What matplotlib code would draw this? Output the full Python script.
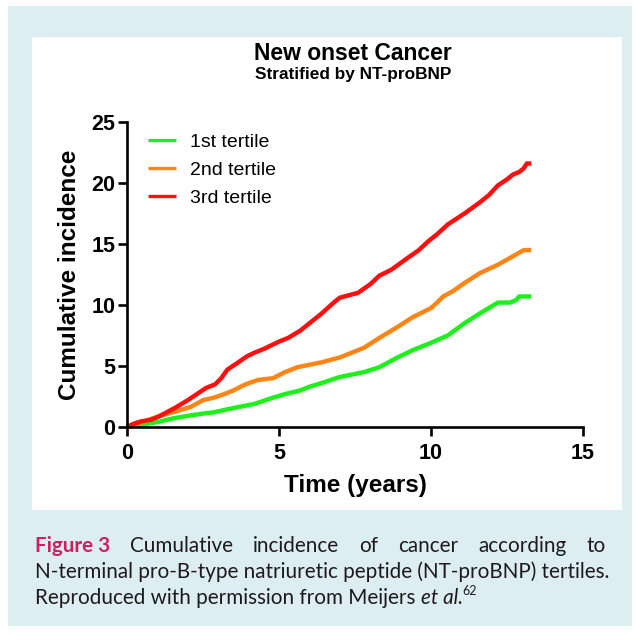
import numpy as np
import matplotlib
matplotlib.use("Agg")
import matplotlib.pyplot as plt
from matplotlib.patches import Rectangle

# values
t_low = [0, 0.5, 1.0, 1.5, 2.1, 2.5, 2.85, 3.3, 3.7, 4.2, 4.8, 5.2, 5.7, 6.0, 6.4, 6.7,
         7.0, 7.4, 7.8, 8.3, 8.9, 9.4, 10.0, 10.55, 11.1, 11.6, 12.0, 12.2, 12.6, 12.8, 12.9, 13.3]
v_low = [0, 0.2, 0.4, 0.7, 0.95, 1.1, 1.2, 1.45, 1.65, 1.9, 2.4, 2.7, 3.0, 3.3, 3.6, 3.85,
         4.1, 4.3, 4.5, 4.9, 5.7, 6.3, 6.9, 7.5, 8.5, 9.3, 9.9, 10.2, 10.2, 10.4, 10.7, 10.7]

t_mid = [0, 0.5, 1.0, 1.5, 2.1, 2.5, 2.85, 3.2, 3.5, 3.9, 4.3, 4.8, 5.2, 5.6, 6.0, 6.4,
         7.0, 7.4, 7.8, 8.3, 8.9, 9.4, 10.0, 10.2, 10.4, 10.7, 11.1, 11.6, 12.2, 12.7, 13.05, 13.3]
v_mid = [0, 0.4, 0.85, 1.2, 1.65, 2.2, 2.4, 2.7, 3.0, 3.5, 3.85, 4.0, 4.5, 4.9, 5.1, 5.3,
         5.7, 6.1, 6.5, 7.3, 8.2, 9.0, 9.75, 10.2, 10.7, 11.1, 11.8, 12.6, 13.3, 14.0, 14.5, 14.5]

t_high = [0, 0.2, 0.45, 0.8, 1.0, 1.3, 1.6, 2.0, 2.3, 2.6, 2.9, 3.1, 3.3, 3.6, 3.95, 4.2,
          4.5, 5.0, 5.3, 5.7, 6.0, 6.4, 6.8, 7.0, 7.3, 7.6, 8.0, 8.3, 8.7, 9.2, 9.6, 9.9,
          10.2, 10.55, 11.1, 11.6, 11.9, 12.2, 12.5, 12.7, 12.9, 13.05, 13.15, 13.3]
v_high = [0, 0.25, 0.45, 0.6, 0.8, 1.2, 1.6, 2.2, 2.7, 3.2, 3.5, 4.0, 4.7, 5.2, 5.8, 6.1,
          6.4, 7.0, 7.3, 7.9, 8.5, 9.3, 10.2, 10.6, 10.8, 11.0, 11.7, 12.4, 12.9, 13.8, 14.5, 15.2,
          15.8, 16.6, 17.5, 18.4, 19.0, 19.8, 20.3, 20.7, 20.9, 21.2, 21.6, 21.6]

labels = ["1st tertile", "2nd tertile", "3rd tertile"]
colours = ["#1ef01e", "#ff8516", "#ff0f0f"]
xticks = [0, 5, 10, 15]
yticks = [0, 5, 10, 15, 20, 25]

W, H = 637, 635
fig = plt.figure(figsize=(W / 100, H / 100), dpi=100)
fig.patch.set_facecolor("white")

# light blue frame and white chart panel
fig.patches.append(Rectangle((8 / W, 1 - 626 / H), 624 / W, 620 / H, transform=fig.transFigure,
                             facecolor="#ddeef3", edgecolor="none", zorder=-3))
fig.patches.append(Rectangle((32 / W, 1 - 510 / H), 590 / W, 473 / H, transform=fig.transFigure,
                             facecolor="white", edgecolor="none", zorder=-2))

ax = fig.add_axes([127 / W, 1 - 427 / H, 456 / W, 305 / H])
ax.set_facecolor("none")
for t, v, c, lab in zip([t_low, t_mid, t_high], [v_low, v_mid, v_high], colours, labels):
    ax.plot(t, v, color=c, lw=3.2, label=lab, solid_capstyle="butt", clip_on=False)

ax.set_xlim(0, 15)
ax.set_ylim(0, 25)
ax.set_xticks(xticks)
ax.set_yticks(yticks)
for s in ["top", "right"]:
    ax.spines[s].set_visible(False)
for s in ["left", "bottom"]:
    ax.spines[s].set_linewidth(1.9)
ax.tick_params(direction="out", length=6.5, width=1.9)
ax.tick_params(axis="x", pad=5)
ax.tick_params(axis="y", pad=2)
for lbl in ax.get_xticklabels() + ax.get_yticklabels():
    lbl.set_fontfamily("Liberation Sans")
    lbl.set_fontweight("bold")
    lbl.set_fontsize(15.5)

ax.set_xlabel("Time (years)", fontfamily="Liberation Sans", fontweight="bold", fontsize=17.5, labelpad=7)
ax.set_ylabel("Cumulative incidence", fontfamily="Liberation Sans", fontweight="bold", fontsize=17.5, labelpad=7)

leg = ax.legend(loc="upper left", bbox_to_anchor=(21 / 456, 1.0 - 11 / 305), frameon=False,
                handlelength=1.45, handletextpad=0.7, labelspacing=0.55, borderpad=0, borderaxespad=0,
                prop={"family": "Liberation Sans", "size": 14})
for h in leg.get_lines():
    h.set_linewidth(2.4)

fig.text(353 / W, 1 - 53 / H, "New onset Cancer", ha="center", va="center",
         fontfamily="Liberation Sans", fontweight="bold", fontsize=16.5)
fig.text(353 / W, 1 - 74 / H, "Stratified by NT-proBNP", ha="center", va="center",
         fontfamily="Liberation Sans", fontweight="bold", fontsize=12.4)

# caption, first line justified
cap_font = dict(fontfamily="Lato", fontsize=14.85, color="#1e1a1b")
x0, x1 = 35, 606
renderer = fig.canvas.get_renderer()
words = ["Figure 3", "Cumulative", "incidence", "of", "cancer", "according", "to"]
texts = []
for i, w in enumerate(words):
    if i == 0:
        tx = fig.text(0, 1 - 546 / H, w, va="center", fontfamily="Lato", fontsize=14.85,
                      fontweight="bold", color="#cc2060")
    else:
        tx = fig.text(0, 1 - 546 / H, w, va="center", **cap_font)
    texts.append(tx)
widths = [tx.get_window_extent(renderer).width for tx in texts]
gap = (x1 - x0 - sum(widths)) / (len(words) - 1)
xpos = x0
for tx, wd in zip(texts, widths):
    tx.set_x(xpos / W)
    xpos += wd + gap

fig.text(x0 / W, 1 - 572 / H, "N-terminal pro-B-type natriuretic peptide (NT-proBNP) tertiles.",
         va="center", **cap_font)
t1 = fig.text(x0 / W, 1 - 598 / H, "Reproduced with permission from Meijers ", va="center", **cap_font)
e1 = t1.get_window_extent(renderer)
t2 = fig.text(e1.x1 / W, 1 - 598 / H, "et al.", va="center", style="italic", **cap_font)
e2 = t2.get_window_extent(renderer)
fig.text(e2.x1 / W, 1 - 591 / H, "62", va="center", fontfamily="Lato", fontsize=9, color="#1e1a1b")

fig.savefig("out.png", dpi=100)
